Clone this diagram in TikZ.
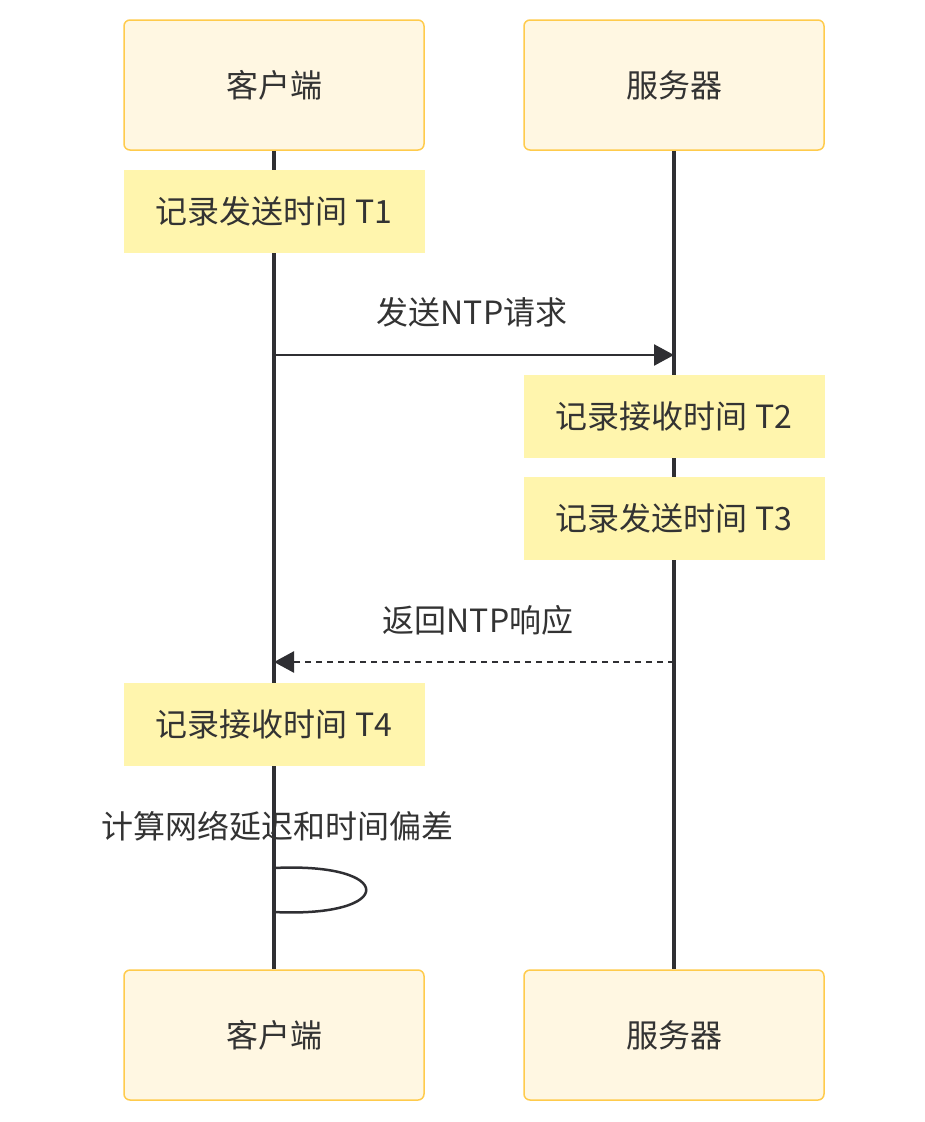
\documentclass[tikz,border=0pt]{standalone}
\usepackage{fontspec}
\setmainfont{Noto Sans CJK SC}
\usetikzlibrary{arrows.meta}

\definecolor{actorfill}{HTML}{FFF7E2}
\definecolor{actorline}{HTML}{FFCB4C}
\definecolor{notefill}{HTML}{FFF5AD}
\definecolor{ink}{HTML}{333333}
\definecolor{wire}{HTML}{2F2F33}

\begin{document}
\begin{tikzpicture}[
  x=1pt,y=-1pt,
  every node/.style={text=ink,font=\fontsize{32}{38}\selectfont},
  actor/.style={draw=actorline,line width=1.5pt,fill=actorfill,rounded corners=6pt,
    minimum width=300pt,minimum height=130pt,inner sep=0pt},
  note/.style={fill=notefill,minimum width=301pt,minimum height=83pt,inner sep=0pt},
  lifeline/.style={wire,line width=3.5pt},
  message/.style={wire,line width=2.5pt,-{Triangle[length=20pt,width=21pt]}},
  reply/.style={message,dash pattern=on 6pt off 5pt}
]
  \useasboundingbox (0,0) rectangle (924,1122);

  % participants
  \node[actor] (client) at (274,85) {客户端};
  \node[actor] (server) at (674,85) {服务器};
  \node[actor] (clientEnd) at (274,1035) {客户端};
  \node[actor] (serverEnd) at (674,1035) {服务器};

  \draw[lifeline] (client.south) -- (clientEnd.north);
  \draw[lifeline] (server.south) -- (serverEnd.north);

  % notes
  \node[note] (t1) at (274,211) {记录发送时间 T1};
  \node[note] (t2) at (674,416.5) {记录接收时间 T2};
  \node[note] (t3) at (674,518.5) {记录发送时间 T3};
  \node[note] (t4) at (274,724.5) {记录接收时间 T4};

  % messages
  \coordinate (reqFrom) at (274,355);
  \coordinate (reqTo) at (674,355);
  \coordinate (resFrom) at (674,662);
  \coordinate (resTo) at (274,662);
  \coordinate (loopFrom) at (274,868);
  \coordinate (loopTo) at (274,912);

  \node (reqLabel) at (472,312) {发送NTP请求};
  \draw[message] (reqFrom) -- (reqTo);

  \node (resLabel) at (478,620) {返回NTP响应};
  \draw[reply] (resFrom) -- (resTo);

  \node (calcLabel) at (277,826) {计算网络延迟和时间偏差};
  \draw[wire,line width=2.5pt] (loopFrom) .. controls (397,862) and (397,918) .. (loopTo);
\end{tikzpicture}
\end{document}
